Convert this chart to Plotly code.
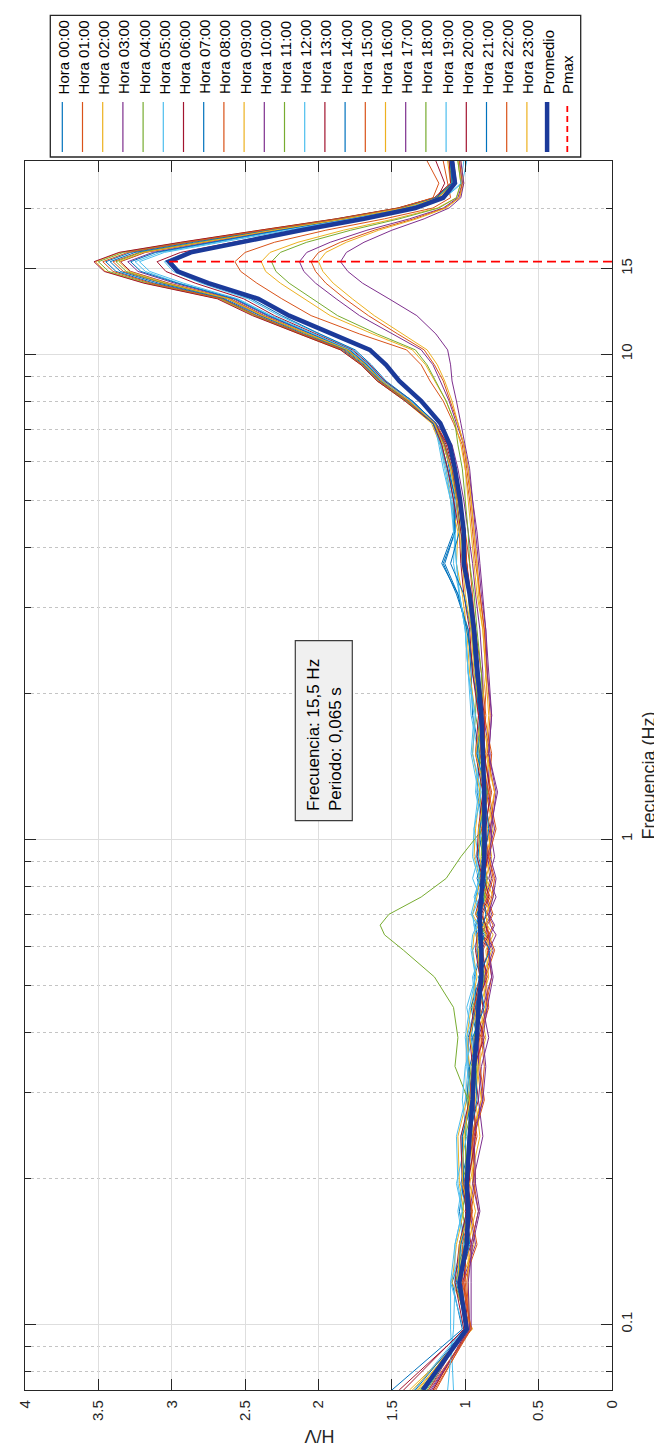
import numpy as np
import plotly.graph_objects as go

# ---------------- data ----------------
freq = [0.0732, 0.0977, 0.122, 0.146, 0.171, 0.195, 0.244, 0.29, 0.34, 0.39,
        0.45, 0.52, 0.59, 0.635, 0.665, 0.70, 0.76, 0.83, 0.92, 1.05,
        1.25, 1.5, 1.8, 2.2, 2.7, 3.2, 3.7, 4.3, 5.0, 5.8,
        6.5, 7.2, 8.0, 8.8, 9.5, 10.2, 11.0, 12.0, 13.0, 14.0,
        14.8, 15.5, 16.2, 17.0, 18.0, 19.0, 20.0, 21.0, 22.5, 25.0]

hora_00 = [1.50, 1.02, 1.09, 1.00, 1.04, 1.01, 1.02, 0.95, 0.98, 0.98, 0.92, 0.94, 0.88, 0.92, 0.93, 0.89, 0.93, 0.89, 0.92, 0.87, 0.92, 0.90, 0.95,
           0.96, 0.98, 1.05, 1.14, 1.07, 1.06, 1.12, 1.17,
           1.22, 1.40, 1.60, 1.70, 1.84, 2.12, 2.42, 2.65, 3.12, 3.38, 3.45, 3.28, 2.88, 2.36, 1.86, 1.45, 1.20, 1.09, 1.10]
hora_01 = [1.22, 0.97, 1.00, 1.00, 0.95, 0.99, 0.92, 0.95, 0.93, 0.88, 0.92, 0.86, 0.88, 0.83, 0.87, 0.88, 0.83, 0.88, 0.84, 0.87, 0.82, 0.88, 0.86,
           0.89, 0.93, 0.95, 0.97, 1.00, 1.03, 1.07, 1.12,
           1.20, 1.37, 1.58, 1.67, 1.81, 2.08, 2.39, 2.62, 3.06, 3.33, 3.40, 3.22, 2.82, 2.33, 1.84, 1.44, 1.19, 1.07, 1.08]
hora_02 = [1.38, 0.95, 1.09, 1.06, 1.01, 1.04, 1.05, 0.99, 0.97, 0.99, 0.96, 0.92, 0.95, 0.94, 0.91, 0.95, 0.92, 0.90, 0.94, 0.93, 0.90, 0.95, 0.93,
           0.97, 0.99, 1.02, 1.06, 1.05, 1.10, 1.13, 1.17,
           1.23, 1.41, 1.60, 1.71, 1.85, 2.13, 2.44, 2.68, 3.18, 3.45, 3.52, 3.35, 2.93, 2.40, 1.88, 1.46, 1.21, 1.10, 1.12]
hora_03 = [1.25, 1.00, 1.02, 0.93, 0.97, 0.94, 0.95, 0.88, 0.91, 0.91, 0.85, 0.87, 0.81, 0.85, 0.86, 0.82, 0.86, 0.82, 0.85, 0.80, 0.85, 0.83, 0.88,
           0.88, 0.90, 0.93, 0.95, 0.98, 1.01, 1.05, 1.09,
           1.20, 1.36, 1.55, 1.66, 1.79, 2.05, 2.35, 2.58, 2.98, 3.23, 3.30, 3.13, 2.74, 2.27, 1.80, 1.41, 1.17, 1.06, 1.08]
hora_04 = [1.30, 0.98, 1.03, 1.03, 0.98, 1.02, 0.95, 0.98, 0.96, 0.91, 0.95, 0.89, 0.91, 0.86, 0.90, 0.91, 0.86, 0.91, 0.87, 0.90, 0.85, 0.91, 0.89,
           0.92, 0.96, 0.98, 1.01, 1.03, 1.06, 1.10, 1.15,
           1.22, 1.40, 1.59, 1.70, 1.83, 2.12, 2.43, 2.67, 3.16, 3.43, 3.50, 3.33, 2.91, 2.38, 1.87, 1.45, 1.20, 1.09, 1.11]
hora_05 = [1.08, 1.10, 1.10, 1.07, 1.02, 1.05, 1.06, 1.00, 0.98, 1.00, 0.97, 0.93, 0.96, 0.95, 0.92, 0.96, 0.93, 0.91, 0.95, 0.94, 0.91, 0.96, 0.94,
           0.98, 1.00, 1.04, 1.08, 1.07, 1.10, 1.15, 1.18,
           1.21, 1.37, 1.56, 1.66, 1.78, 2.04, 2.33, 2.56, 2.95, 3.18, 3.25, 3.08, 2.70, 2.24, 1.78, 1.40, 1.14, 1.02, 0.99]
hora_06 = [1.45, 1.00, 1.05, 0.96, 1.00, 0.97, 0.98, 0.91, 0.94, 0.94, 0.88, 0.90, 0.84, 0.88, 0.89, 0.85, 0.89, 0.85, 0.88, 0.83, 0.88, 0.86, 0.91,
           0.93, 0.95, 0.97, 0.99, 1.03, 1.06, 1.08, 1.13,
           1.21, 1.38, 1.57, 1.68, 1.80, 2.07, 2.37, 2.60, 3.02, 3.28, 3.35, 3.18, 2.78, 2.30, 1.82, 1.42, 1.19, 1.14, 1.20]
hora_07 = [1.27, 0.99, 1.04, 1.04, 0.99, 1.03, 0.96, 0.99, 0.97, 0.92, 0.96, 0.90, 0.92, 0.87, 0.91, 0.92, 0.87, 0.92, 0.88, 0.91, 0.86, 0.92, 0.90,
           0.94, 0.99, 1.05, 1.16, 1.08, 1.07, 1.11, 1.14,
           1.20, 1.36, 1.56, 1.67, 1.79, 2.05, 2.34, 2.57, 2.96, 3.21, 3.28, 3.11, 2.72, 2.26, 1.80, 1.41, 1.17, 1.07, 1.08]
hora_08 = [1.20, 0.97, 0.99, 0.96, 0.91, 0.94, 0.95, 0.89, 0.87, 0.89, 0.86, 0.82, 0.85, 0.84, 0.81, 0.85, 0.82, 0.80, 0.84, 0.83, 0.80, 0.85, 0.83,
           0.85, 0.87, 0.90, 0.93, 0.95, 0.97, 1.00, 1.02,
           1.08, 1.15, 1.24, 1.30, 1.40, 1.72, 2.05, 2.25, 2.42, 2.53, 2.57, 2.50, 2.30, 1.95, 1.55, 1.22, 1.10, 1.12, 1.15]
hora_09 = [1.33, 0.98, 1.03, 0.94, 0.98, 0.95, 0.96, 0.89, 0.92, 0.92, 0.86, 0.88, 0.82, 0.86, 0.87, 0.83, 0.87, 0.83, 0.86, 0.81, 0.86, 0.84, 0.89,
           0.86, 0.88, 0.92, 0.94, 0.96, 0.98, 1.00, 1.03,
           1.07, 1.13, 1.21, 1.27, 1.36, 1.63, 1.92, 2.10, 2.26, 2.36, 2.39, 2.33, 2.14, 1.83, 1.48, 1.19, 1.06, 1.03, 1.05]
hora_10 = [1.24, 0.96, 0.96, 0.96, 0.91, 0.95, 0.88, 0.91, 0.89, 0.84, 0.88, 0.82, 0.84, 0.79, 0.83, 0.84, 0.79, 0.84, 0.80, 0.83, 0.78, 0.84, 0.82,
           0.84, 0.86, 0.89, 0.91, 0.93, 0.95, 0.98, 1.01,
           1.06, 1.11, 1.17, 1.22, 1.30, 1.50, 1.72, 1.88, 2.02, 2.10, 2.13, 2.08, 1.92, 1.67, 1.38, 1.15, 1.05, 1.02, 1.04]
hora_11 = [1.26, 1.00, 1.04, 1.01, 0.96, 0.99, 1.00, 0.94, 0.92, 0.94, 0.91, 0.87, 0.90, 0.89, 0.86, 0.90, 0.87, 0.85, 0.89, 0.88, 0.85, 0.90, 0.88,
           0.89, 0.92, 0.94, 0.97, 0.98, 1.00, 1.02, 1.05,
           1.07, 1.13, 1.20, 1.26, 1.34, 1.60, 1.87, 2.04, 2.20, 2.29, 2.32, 2.26, 2.08, 1.78, 1.45, 1.18, 1.06, 1.03, 1.05]
hora_12 = [1.35, 1.01, 1.10, 1.01, 1.05, 1.02, 1.03, 0.96, 0.99, 0.99, 0.93, 0.95, 0.89, 0.93, 0.94, 0.90, 0.94, 0.90, 0.93, 0.88, 0.93, 0.91, 0.96,
           0.98, 1.00, 1.04, 1.06, 1.07, 1.09, 1.13, 1.17,
           1.22, 1.37, 1.55, 1.65, 1.76, 2.00, 2.27, 2.48, 2.80, 2.99, 3.05, 2.90, 2.55, 2.14, 1.72, 1.38, 1.14, 1.03, 1.01]
hora_13 = [1.22, 0.98, 1.01, 0.99, 0.96, 0.98, 0.93, 0.94, 0.94, 0.87, 0.93, 0.85, 0.89, 0.84, 0.86, 0.89, 0.84, 0.87, 0.85, 0.86, 0.83, 0.87, 0.87,
           0.91, 0.93, 0.96, 0.99, 1.00, 1.03, 1.07, 1.12,
           1.21, 1.37, 1.55, 1.65, 1.77, 2.02, 2.30, 2.51, 2.84, 3.04, 3.10, 2.94, 2.59, 2.16, 1.74, 1.38, 1.16, 1.07, 1.09]
hora_14 = [1.29, 0.99, 1.06, 1.03, 0.98, 1.01, 1.02, 0.96, 0.94, 0.96, 0.93, 0.89, 0.92, 0.91, 0.88, 0.92, 0.89, 0.87, 0.91, 0.90, 0.87, 0.92, 0.90,
           0.95, 0.98, 1.06, 1.15, 1.07, 1.08, 1.12, 1.16,
           1.21, 1.36, 1.54, 1.64, 1.75, 1.99, 2.25, 2.46, 2.76, 2.94, 3.00, 2.86, 2.52, 2.12, 1.71, 1.37, 1.16, 1.08, 1.10]
hora_15 = [1.21, 0.96, 1.01, 0.92, 0.96, 0.93, 0.94, 0.87, 0.90, 0.90, 0.84, 0.86, 0.80, 0.84, 0.85, 0.81, 0.85, 0.81, 0.84, 0.79, 0.84, 0.82, 0.87,
           0.85, 0.87, 0.90, 0.92, 0.94, 0.96, 0.99, 1.01,
           1.05, 1.10, 1.15, 1.21, 1.28, 1.46, 1.66, 1.82, 1.95, 2.02, 2.05, 2.00, 1.85, 1.62, 1.35, 1.14, 1.04, 1.02, 1.04]
hora_16 = [1.36, 0.97, 0.98, 0.98, 0.93, 0.97, 0.90, 0.93, 0.91, 0.86, 0.90, 0.84, 0.86, 0.81, 0.85, 0.86, 0.81, 0.86, 0.82, 0.85, 0.80, 0.86, 0.84,
           0.86, 0.88, 0.91, 0.92, 0.94, 0.96, 0.98, 1.01,
           1.05, 1.09, 1.14, 1.19, 1.26, 1.43, 1.62, 1.77, 1.90, 1.97, 2.00, 1.95, 1.81, 1.59, 1.33, 1.13, 1.04, 1.01, 1.03]
hora_17 = [1.23, 0.97, 0.98, 0.95, 0.90, 0.93, 0.94, 0.88, 0.86, 0.88, 0.85, 0.81, 0.84, 0.83, 0.80, 0.84, 0.81, 0.79, 0.83, 0.82, 0.79, 0.84, 0.82,
           0.85, 0.86, 0.88, 0.90, 0.92, 0.95, 0.97, 1.00,
           1.03, 1.06, 1.09, 1.10, 1.12, 1.20, 1.33, 1.52, 1.70, 1.80, 1.85, 1.81, 1.69, 1.50, 1.28, 1.11, 1.03, 1.01, 1.03]
hora_18 = [1.31, 0.98, 1.07, 0.98, 1.02, 0.99, 1.00, 0.98, 1.07, 1.05, 1.08, 1.21, 1.42, 1.55, 1.58, 1.52, 1.30, 1.13, 1.03, 0.88, 0.90, 0.88, 0.93,
           0.92, 0.95, 0.97, 1.00, 1.02, 1.05, 1.09, 1.14,
           1.21, 1.39, 1.57, 1.68, 1.81, 2.08, 2.38, 2.61, 3.05, 3.31, 3.38, 3.21, 2.81, 2.32, 1.83, 1.43, 1.19, 1.08, 1.09]
hora_19 = [1.12, 1.08, 1.07, 1.07, 1.02, 1.06, 0.99, 1.02, 1.00, 0.95, 0.99, 0.93, 0.95, 0.90, 0.94, 0.95, 0.90, 0.95, 0.91, 0.94, 0.89, 0.95, 0.93,
           0.98, 1.00, 1.04, 1.06, 1.08, 1.10, 1.14, 1.17,
           1.21, 1.37, 1.56, 1.66, 1.78, 2.03, 2.32, 2.55, 2.92, 3.15, 3.22, 3.05, 2.67, 2.22, 1.77, 1.40, 1.17, 1.07, 1.09]
hora_20 = [1.42, 1.01, 1.07, 1.04, 0.99, 1.02, 1.03, 0.97, 0.95, 0.97, 0.94, 0.90, 0.93, 0.92, 0.89, 0.93, 0.90, 0.88, 0.92, 0.91, 0.88, 0.93, 0.91,
           0.95, 0.97, 1.01, 1.03, 1.04, 1.08, 1.12, 1.16,
           1.22, 1.41, 1.60, 1.71, 1.85, 2.13, 2.45, 2.69, 3.19, 3.46, 3.53, 3.36, 2.94, 2.40, 1.88, 1.46, 1.21, 1.10, 1.11]
hora_21 = [1.34, 1.00, 1.04, 0.97, 0.99, 0.98, 0.97, 0.92, 0.93, 0.95, 0.87, 0.91, 0.83, 0.89, 0.88, 0.86, 0.88, 0.86, 0.87, 0.84, 0.87, 0.87, 0.90,
           0.93, 0.96, 1.01, 1.10, 1.04, 1.06, 1.09, 1.14,
           1.22, 1.39, 1.58, 1.69, 1.82, 2.10, 2.40, 2.64, 3.09, 3.35, 3.42, 3.25, 2.85, 2.34, 1.85, 1.44, 1.20, 1.09, 1.10]
hora_22 = [1.25, 0.96, 1.02, 1.02, 0.97, 1.01, 0.94, 0.97, 0.95, 0.90, 0.94, 0.88, 0.90, 0.85, 0.89, 0.90, 0.85, 0.90, 0.86, 0.89, 0.84, 0.90, 0.88,
           0.91, 0.95, 0.97, 0.99, 1.01, 1.05, 1.09, 1.14,
           1.21, 1.39, 1.59, 1.70, 1.83, 2.11, 2.42, 2.66, 3.14, 3.40, 3.47, 3.30, 2.89, 2.37, 1.86, 1.45, 1.22, 1.18, 1.26]
hora_23 = [1.32, 0.99, 1.05, 1.04, 0.97, 1.02, 1.01, 0.97, 0.93, 0.97, 0.92, 0.90, 0.91, 0.92, 0.87, 0.93, 0.88, 0.88, 0.90, 0.91, 0.86, 0.93, 0.89,
           0.94, 0.96, 1.00, 1.02, 1.04, 1.06, 1.10, 1.15,
           1.21, 1.38, 1.57, 1.68, 1.80, 2.07, 2.38, 2.61, 3.03, 3.29, 3.36, 3.19, 2.79, 2.31, 1.82, 1.42, 1.18, 1.08, 1.09]

promedio = [1.29, 0.99, 1.04, 0.99, 0.98, 0.99, 0.97, 0.95, 0.94, 0.92, 0.91, 0.89, 0.89, 0.90, 0.90, 0.90, 0.89, 0.88, 0.87, 0.87, 0.87, 0.88, 0.89,
            0.915, 0.94, 0.97, 1.01, 1.01, 1.035, 1.07, 1.105,
            1.17, 1.30, 1.45, 1.54, 1.65, 1.91, 2.20, 2.41, 2.75, 2.96, 3.02, 2.87, 2.54, 2.12, 1.69, 1.34, 1.15, 1.07, 1.09]

horas = [hora_00, hora_01, hora_02, hora_03, hora_04, hora_05, hora_06, hora_07,
         hora_08, hora_09, hora_10, hora_11, hora_12, hora_13, hora_14, hora_15,
         hora_16, hora_17, hora_18, hora_19, hora_20, hora_21, hora_22, hora_23]
hour_names = ["Hora %02d:00" % h for h in range(24)]

hv_ticks = [0, 0.5, 1, 1.5, 2, 2.5, 3, 3.5, 4]
hv_ticktext = ["0", "0.5", "1", "1.5", "2", "2.5", "3", "3.5", "4"]
f_ticks = [0.1, 1, 10, 15]
f_ticktext = ["0.1", "1", "10", "15"]
f_minor = [0.08, 0.09, 0.2, 0.3, 0.4, 0.5, 0.6, 0.7, 0.8, 0.9,
           2, 3, 4, 5, 6, 7, 8, 9, 20]
f_range = [0.0732, 25.0]
hv_range = [4, 0]
info_text = "Frecuencia: 15,5 Hz<br>Periodo: 0,065 s"

for s in horas + [promedio]:
    assert len(s) == len(freq), len(s)

# ---------------- style ----------------
COLORS = ['#0072BD', '#D95319', '#EDB120', '#7E2F8E', '#77AC30', '#4DBEEE', '#A2142F']
PROM_COLOR = '#1B3A9A'
PMAX_COLOR = '#FF0000'
AX = '#262626'
FONT = 'Liberation Sans, Arial, Helvetica, sans-serif'

W, H = 662, 1445
L, R, T, B = 17, 58, 153, 63
PW, PH = W - L - R, H - T - B


def px_x(px):
    return (px - L) / PW


def px_y(py):
    return (H - B - py) / PH


fig = go.Figure()

for i, (name, vals) in enumerate(zip(hour_names, horas)):
    fig.add_trace(go.Scatter(x=vals, y=freq, mode='lines', name=name,
                             line=dict(color=COLORS[i % 7], width=1.0)))

fig.add_trace(go.Scatter(x=promedio, y=freq, mode='lines', name='Promedio',
                         line=dict(color=PROM_COLOR, width=4.5)))

imax = int(np.argmax(promedio))
pmax_hv = promedio[imax]
pmax_f = freq[imax]
fig.add_trace(go.Scatter(x=[0, pmax_hv], y=[pmax_f, pmax_f], mode='lines', name='Pmax',
                         line=dict(color=PMAX_COLOR, width=1.8, dash='9px,5px')))

shapes = []
annotations = []

# legend (drawn manually, rotated like the reference)
legend_names = hour_names + ['Promedio', 'Pmax']
shapes.append(dict(type='rect', xref='paper', yref='paper',
                   x0=px_x(42.3), x1=px_x(572.7), y0=px_y(149), y1=px_y(7.3),
                   line=dict(color=AX, width=1.3), fillcolor='white', layer='above'))
for i, nm in enumerate(legend_names):
    cx = 54.3 + i * 20.2
    if nm == 'Promedio':
        ln = dict(color=PROM_COLOR, width=4.5)
    elif nm == 'Pmax':
        ln = dict(color=PMAX_COLOR, width=1.8, dash='6px,4px')
    else:
        ln = dict(color=COLORS[i % 7], width=1.2)
    shapes.append(dict(type='line', xref='paper', yref='paper',
                       x0=px_x(cx), x1=px_x(cx), y0=px_y(144), y1=px_y(94),
                       line=ln, layer='above'))
    annotations.append(dict(text=nm, xref='paper', yref='paper', x=px_x(cx + 0.8), y=px_y(88.3),
                            xanchor='center', yanchor='bottom', textangle=-90, showarrow=False,
                            font=dict(family=FONT, size=15, color='#000000')))

# info text box
shapes.append(dict(type='rect', xref='paper', yref='paper',
                   x0=px_x(287.3), x1=px_x(344.3), y0=px_y(812.7), y1=px_y(632.7),
                   line=dict(color='#3c3c3c', width=1.2), fillcolor='#F0F0F0', layer='above'))
annotations.append(dict(text=info_text, xref='paper', yref='paper', x=px_x(316), y=px_y(805),
                        xanchor='center', yanchor='bottom', textangle=-90, align='left',
                        showarrow=False, font=dict(family=FONT, size=17, color='#000000')))

# axis titles
annotations.append(dict(text='Frecuencia (Hz)', xref='paper', yref='paper', x=px_x(640), y=px_y(767.5),
                        xanchor='center', yanchor='middle', textangle=-90, showarrow=False,
                        font=dict(family=FONT, size=18, color=AX)))
annotations.append(dict(text='H/V', xref='paper', yref='paper', x=px_x(311.7), y=px_y(1428),
                        xanchor='center', yanchor='middle', textangle=180, showarrow=False,
                        font=dict(family=FONT, size=18, color=AX)))

fig.update_layout(
    width=W, height=H,
    margin=dict(l=L, r=R, t=T, b=B, autoexpand=False),
    paper_bgcolor='white', plot_bgcolor='white',
    showlegend=False,
    font=dict(family=FONT, size=15, color=AX),
    shapes=shapes, annotations=annotations,
    xaxis=dict(range=hv_range, tickmode='array', tickvals=hv_ticks, ticktext=hv_ticktext,
               tickangle=-90, ticks='inside', ticklen=11, tickwidth=1.3, tickcolor=AX,
               showline=True, linecolor=AX, linewidth=1.3, mirror='ticks',
               showgrid=True, gridcolor='#DEDEDE', gridwidth=1, zeroline=False,
               ticklabelstandoff=3, tickfont=dict(family=FONT, size=15, color=AX)),
    yaxis=dict(type='log', range=[np.log10(f_range[0]), np.log10(f_range[1])], side='right',
               tickmode='array', tickvals=f_ticks, ticktext=f_ticktext,
               tickangle=-90, ticks='inside', ticklen=11, tickwidth=1.3, tickcolor=AX,
               showline=True, linecolor=AX, linewidth=1.3, mirror='ticks',
               showgrid=True, gridcolor='#DEDEDE', gridwidth=1, zeroline=False,
               ticklabelstandoff=1, tickfont=dict(family=FONT, size=15, color=AX),
               minor=dict(tickmode='array', tickvals=f_minor, ticks='inside', ticklen=6,
                          tickwidth=1.3, tickcolor=AX, showgrid=True, gridcolor='#C4C4C4',
                          griddash='dot', gridwidth=1)),
)

fig.write_html("out.html")
